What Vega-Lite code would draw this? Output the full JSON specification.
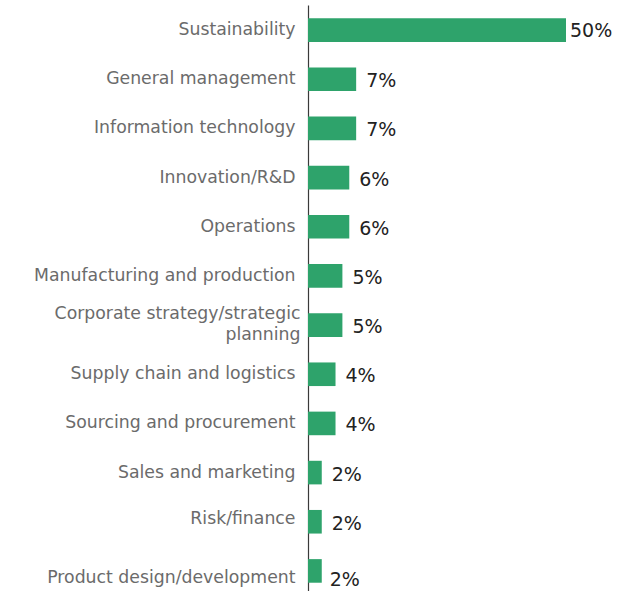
{
  "$schema": "https://vega.github.io/schema/vega-lite/v6.json",
  "width": 258,
  "height": 591,
  "autosize": {"type": "none"},
  "padding": {"left": 308, "top": 5, "right": 76, "bottom": 0},
  "background": "white",
  "config": {"view": {"stroke": null}, "font": "DejaVu Sans"},
  "data": {
    "values": [
      {"area": "Sustainability", "share": 50, "label": "50%"},
      {"area": "General management", "share": 7, "label": "7%"},
      {"area": "Information technology", "share": 7, "label": "7%"},
      {"area": "Innovation/R&D", "share": 6, "label": "6%"},
      {"area": "Operations", "share": 6, "label": "6%"},
      {"area": "Manufacturing and production", "share": 5, "label": "5%"},
      {"area": "Corporate strategy/strategic|planning", "share": 5, "label": "5%"},
      {"area": "Supply chain and logistics", "share": 4, "label": "4%"},
      {"area": "Sourcing and procurement", "share": 4, "label": "4%"},
      {"area": "Sales and marketing", "share": 2, "label": "2%"},
      {"area": "Risk/finance", "share": 2, "label": "2%"},
      {"area": "Product design/development", "share": 2, "label": "2%"}
    ]
  },
  "encoding": {
    "y": {
      "field": "area",
      "type": "nominal",
      "sort": null,
      "scale": {"paddingInner": 0.52, "paddingOuter": 0.27},
      "axis": {
        "title": null,
        "ticks": false,
        "domainColor": "#3a3a3a",
        "domainWidth": 1.2,
        "labelFont": "DejaVu Sans",
        "labelFontSize": 17.3,
        "labelColor": "#6b6b6b",
        "labelLimit": 400,
        "labelLineHeight": 21,
        "labelExpr": "split(datum.label, '|')",
        "labelPadding": {"condition": {"test": "indexof(datum.value, 'Corporate') === 0", "value": 8}, "value": 13},
        "labelOffset": {"condition": [
          {"test": "datum.value === 'Product design/development'", "value": 7},
          {"test": "datum.value === 'Risk/finance'", "value": -3},
          {"test": "indexof(datum.value, 'Corporate') === 0", "value": -11}
        ], "value": 0}
      }
    },
    "x": {
      "field": "share",
      "type": "quantitative",
      "scale": {"domain": [0, 37.5], "clamp": true, "nice": false, "zero": true},
      "axis": null
    }
  },
  "layer": [
    {"mark": {"type": "bar", "color": "#2ea36b"}},
    {
      "transform": [{"filter": "datum.share >= 20"}],
      "mark": {"type": "text", "align": "left", "baseline": "middle", "dx": 4, "dy": 1, "fontSize": 19, "color": "#222222", "font": "DejaVu Sans"},
      "encoding": {"text": {"field": "label", "type": "nominal"}}
    },
    {
      "transform": [{"filter": "datum.share < 20 && datum.area !== 'Product design/development'"}],
      "mark": {"type": "text", "align": "left", "baseline": "middle", "dx": 10, "dy": 2, "fontSize": 19, "color": "#222222", "font": "DejaVu Sans"},
      "encoding": {"text": {"field": "label", "type": "nominal"}}
    },
    {
      "transform": [{"filter": "datum.area === 'Product design/development'"}],
      "mark": {"type": "text", "align": "left", "baseline": "middle", "dx": 8, "dy": 9, "fontSize": 19, "color": "#222222", "font": "DejaVu Sans"},
      "encoding": {"text": {"field": "label", "type": "nominal"}}
    }
  ]
}
